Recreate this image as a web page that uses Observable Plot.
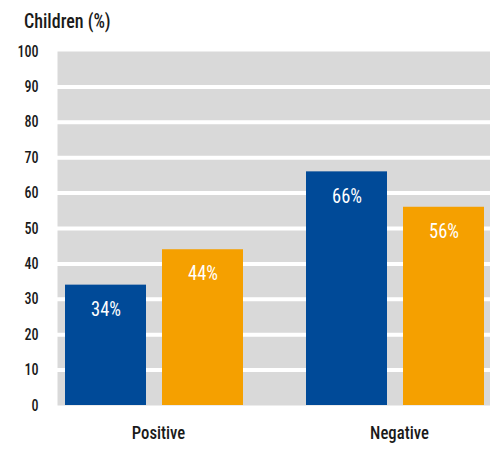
<!DOCTYPE html>
<html>
<head>
<meta charset="utf-8">
<script src="https://cdn.jsdelivr.net/npm/d3@7"></script>
<script src="https://cdn.jsdelivr.net/npm/@observablehq/plot@0.6"></script>
<style>
  body { margin: 0; background: #fff; overflow: hidden; }
  #chart { width: 490px; font-family: "Roboto Condensed", "Liberation Sans Narrow", "DejaVu Sans Condensed", sans-serif; }
  #title { height: 40px; line-height: 42px; padding-left: 24px; font-size: 20px; font-weight: 500; color: #1a1a1a; }
  #title span { display: inline-block; transform: scaleX(0.9); transform-origin: left center; }
</style>
</head>
<body>
<div id="chart"><div id="title"><span>Children (%)</span></div></div>
<script>
// Share of children, by response group
const categories = ["Positive", "Negative"];
const seriesNames = ["Group A", "Group B"];
const groupA = [34, 66];
const groupB = [44, 56];
const yTicks = [0, 10, 20, 30, 40, 50, 60, 70, 80, 90, 100];
const seriesColors = ["#004a98", "#f5a000"];

const gridTicks = yTicks.filter((t) => t > 0 && t < 100);
const rowsA = categories.map((category, i) => ({category, series: seriesNames[0], value: groupA[i]}));
const rowsB = categories.map((category, i) => ({category, series: seriesNames[1], value: groupB[i]}));

const fontStack = '"Roboto Condensed", "Liberation Sans Narrow", "DejaVu Sans Condensed", sans-serif';

// Each category band holds two bars side by side; each series is pushed to one half
const barWidth = 82;
const barGap = 15;
const shift = (barWidth + barGap) / 2;

const chart = Plot.plot({
  width: 490,
  height: 410,
  marginTop: 11,
  marginBottom: 45,
  marginLeft: 57,
  marginRight: 0,
  style: {fontFamily: fontStack, color: "#1a1a1a", background: "#fff", fontWeight: 500},
  x: {domain: categories, paddingInner: 0.26, paddingOuter: 0.025, align: 0.58, axis: null},
  y: {domain: [0, 100], axis: null},
  color: {domain: seriesNames, range: seriesColors},
  marks: [
    Plot.frame({fill: "#d9d9d9", stroke: null}),
    Plot.gridY(gridTicks, {stroke: "#fff", strokeOpacity: 1, strokeWidth: 4}),
    Plot.axisY(yTicks, {tickSize: 0, tickPadding: 19, fontSize: 16, label: null}),
    Plot.axisX({tickSize: 0, tickPadding: 20, dx: 4, fontSize: 19, label: null}),
    Plot.barY(rowsA, {x: "category", y: "value", fill: "series", insetLeft: 0, insetRight: barWidth + barGap}),
    Plot.barY(rowsB, {x: "category", y: "value", fill: "series", insetLeft: barWidth + barGap, insetRight: 0}),
    Plot.text(rowsA, {x: "category", y: "value", text: (d) => `${d.value}%`, dx: -shift, dy: 24, fill: "#fff", fontSize: 21, fontWeight: 400}),
    Plot.text(rowsB, {x: "category", y: "value", text: (d) => `${d.value}%`, dx: shift, dy: 24, fill: "#fff", fontSize: 21, fontWeight: 400})
  ]
});

document.getElementById("chart").appendChild(chart);

// Narrow the lettering a little so it sets like a condensed display face
chart.querySelectorAll("text").forEach((t) => {
  const len = t.getComputedTextLength();
  if (len > 0) {
    t.setAttribute("textLength", (len * 0.88).toFixed(1));
    t.setAttribute("lengthAdjust", "spacingAndGlyphs");
  }
});
</script>
</body>
</html>
